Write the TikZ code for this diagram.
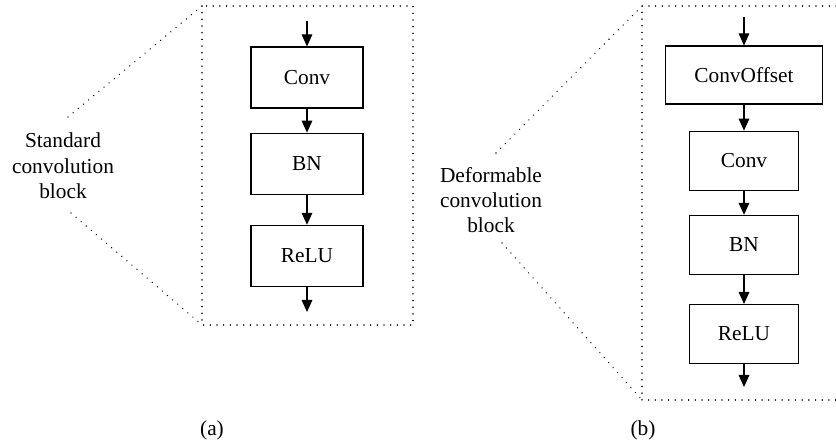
\documentclass[tikz,border=0pt]{standalone}
\usepackage{fontspec}
\setmainfont{Liberation Serif}
\usetikzlibrary{positioning}
\usetikzlibrary{arrows.meta}

\begin{document}
\begin{tikzpicture}[x=0.75pt,y=-0.75pt,
		font=\fontsize{16}{19}\selectfont,
		blk/.style={draw,rectangle,line width=0.9pt,inner sep=0pt,minimum width=84pt,minimum height=45.75pt},
		flow/.style={-{Triangle[width=8pt,length=9pt]},line width=0.8pt},
		zoomline/.style={line width=1.1pt,dash pattern=on 0.01pt off 5pt,line cap=round}]
		\useasboundingbox (0,0) rectangle (836,445);
		% (a) standard block
		\coordinate (fa nw) at (202,6);
		\coordinate (fa se) at (413,325);
		\draw[zoomline] (fa nw) rectangle (fa se);
		\node[align=center] at (63,166) (lab a) {Standard\\convolution\\block};
		\coordinate (za top) at (68,117);
		\coordinate (za bot) at (71,213);
		\draw[zoomline] (za top) -- (fa nw);
		\draw[zoomline] (za bot) -- (fa nw |- fa se);
		\node[blk] at (307,77.5) (conv a) {Conv};
		\node[blk,below = 18pt of conv a] (bn a) {BN};
		\node[blk,below = 22.5pt of bn a] (relu a) {ReLU};
		\coordinate (in a) at (307,21);
		\coordinate (out a) at (307,312);
		\draw[flow] (in a) -- (conv a);
		\draw[flow] (conv a) -- (bn a);
		\draw[flow] (bn a) -- (relu a);
		\draw[flow] (relu a) -- (out a);
		\node at (212,430) (cap a) {(a)};
		% (b) deformable block
		\coordinate (fb nw) at (642,6);
		\coordinate (fb sw) at (642,400);
		\draw[zoomline] (836,6) -- (fb nw) -- (fb sw) -- (836,400);
		\node[align=center] at (491,200) (lab b) {Deformable\\convolution\\block};
		\coordinate (zb top) at (496,153);
		\coordinate (zb bot) at (502,243);
		\draw[zoomline] (zb top) -- (fb nw);
		\draw[zoomline] (zb bot) -- (fb sw);
		\node[blk,minimum width=117.75pt,minimum height=43.5pt] at (744,75) (off b) {ConvOffset};
		\node[blk,minimum width=81.75pt,minimum height=44.25pt,below = 19.5pt of off b] (conv b) {Conv};
		\node[blk,minimum width=81.75pt,minimum height=44.25pt,below = 18pt of conv b] (bn b) {BN};
		\node[blk,minimum width=81.75pt,minimum height=44.25pt,below = 21.75pt of bn b] (relu b) {ReLU};
		\coordinate (in b) at (744,17);
		\coordinate (out b) at (744,387);
		\draw[flow] (in b) -- (off b);
		\draw[flow] (off b) -- (conv b);
		\draw[flow] (conv b) -- (bn b);
		\draw[flow] (bn b) -- (relu b);
		\draw[flow] (relu b) -- (out b);
		\node at (643,430) (cap b) {(b)};
	\end{tikzpicture}
\end{document}
